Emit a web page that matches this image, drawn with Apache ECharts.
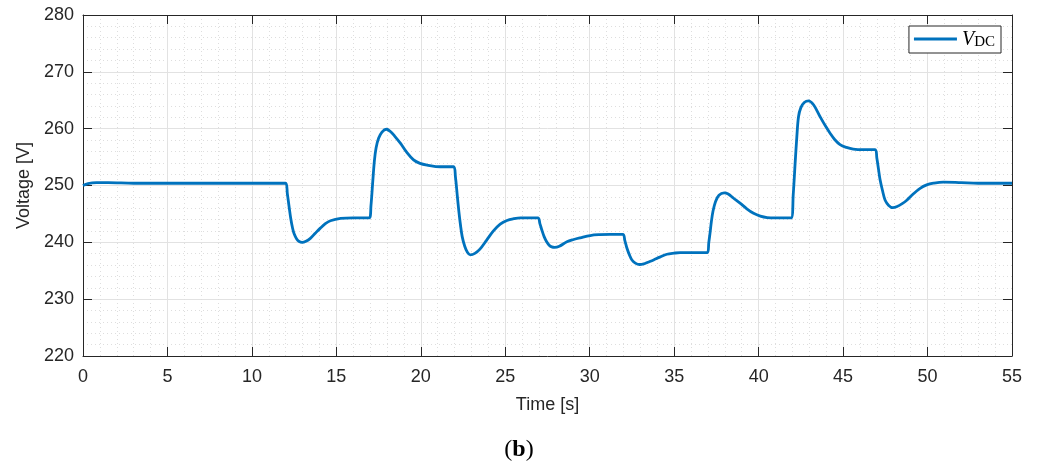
<!DOCTYPE html>
<html>
<head>
<meta charset="utf-8">
<script src="https://cdn.jsdelivr.net/npm/echarts@6/dist/echarts.min.js"></script>
<style>
html,body{margin:0;padding:0;background:#fff;}
#chart{width:1038px;height:464px;}
</style>
</head>
<body>
<div id="chart"></div>
<script>
// Time [s]
const timeS = [
0,0.3,0.8,1.5,3,12.0,12.1,12.2,12.3,12.4,12.5,12.65,12.8,12.97,13.2,13.46,13.75,14.05,14.35,14.65,15.25,16.0,16.95,
17.05,17.15,17.25,17.35,17.5,17.7,17.96,18.2,18.45,18.8,19.15,19.57,19.95,20.37,21.15,21.94,
22.05,22.15,22.25,22.35,22.45,22.6,22.75,22.93,23.2,23.5,23.9,24.3,24.7,25.1,25.5,25.9,26.93,
27.05,27.15,27.3,27.45,27.6,27.75,27.92,28.2,28.65,29.05,29.44,30.03,30.6,31.2,31.96,
32.08,32.2,32.35,32.5,32.7,32.95,33.2,33.45,33.78,34.15,34.57,35.0,35.35,36.97,
37.05,37.13,37.2,37.3,37.45,37.65,37.96,38.2,38.5,38.9,39.3,39.7,40.1,40.5,41.0,41.92,
42.05,42.16,42.26,42.36,42.5,42.7,42.95,43.25,43.64,43.95,44.23,44.5,44.82,45.2,45.6,46.2,46.9,
47.0,47.1,47.19,47.35,47.49,47.7,47.94,48.2,48.5,48.77,49.15,49.56,49.95,50.35,50.94,52.0,53.0,55.0
];
// Voltage V_DC [V]
const vdc = [
250.0,250.35,250.5,250.5,250.4,250.4,248.5,246.3,244.2,242.6,241.5,240.6,240.15,240.0,240.2,240.7,241.6,242.5,243.3,243.8,244.2,244.3,244.3,
246.5,250.5,254.3,256.6,258.3,259.4,259.9,259.5,258.7,257.4,255.9,254.5,253.9,253.6,253.3,253.3,
251.5,248.5,245.5,243.0,241.0,239.3,238.3,237.8,238.05,238.8,240.4,242.0,243.2,243.85,244.15,244.3,244.3,
243.3,242.3,241.0,240.1,239.5,239.2,239.1,239.3,240.1,240.5,240.8,241.2,241.35,241.4,241.4,
240.3,239.0,237.8,236.9,236.35,236.1,236.2,236.5,236.9,237.4,237.9,238.1,238.2,238.2,
240.0,241.8,243.6,245.5,247.2,248.3,248.7,248.5,247.8,246.9,245.9,245.1,244.6,244.35,244.3,244.3,
248.5,253.9,258.5,262.1,263.7,264.6,264.9,264.2,262.1,260.5,259.2,258.1,257.2,256.7,256.4,256.3,256.3,
254.8,252.8,251.0,248.9,247.4,246.5,246.1,246.3,246.8,247.4,248.5,249.5,250.1,250.4,250.6,250.5,250.4,250.4
];
const xTicks = [0,5,10,15,20,25,30,35,40,45,50,55];
const yTicks = [220,230,240,250,260,270,280];

const points = timeS.map((t, i) => [t, vdc[i]]);
const txt = '#262626';
const font = '"Liberation Sans", Arial, sans-serif';
const serif = '"Liberation Serif", "DejaVu Serif", serif';

const chart = echarts.init(document.getElementById('chart'), null, {renderer: 'canvas'});
const axisCommon = {
  axisLine: {show: true, onZero: false, lineStyle: {color: txt, width: 1}},
  axisTick: {show: true, inside: true, length: 9, lineStyle: {color: txt, width: 1}},
  minorTick: {show: false, splitNumber: 5},
};
chart.setOption({
  animation: false,
  backgroundColor: '#fff',
  title: {
    text: '({b|b})',
    left: 'center',
    top: 433,
    textStyle: {
      fontFamily: serif,
      fontSize: 24, fontWeight: 'normal', color: '#000',
      rich: {b: {fontFamily: serif, fontSize: 24, fontWeight: 'bold', color: '#000'}}
    }
  },
  grid: {left: 83, right: 26, top: 15, bottom: 108},
  legend: {
    right: 37, top: 26,
    orient: 'vertical',
    backgroundColor: '#fff',
    borderColor: txt, borderWidth: 1,
    padding: [3, 6, 3, 5],
    itemWidth: 43, itemHeight: 3,
    itemGap: 0,
    icon: 'rect',
    formatter: () => '{v|V}{s|DC}',
    textStyle: {
      rich: {
        v: {fontFamily: serif, fontStyle: 'italic', fontSize: 20, color: '#000', verticalAlign: 'bottom', lineHeight: 22},
        s: {fontFamily: serif, fontSize: 15, color: '#000', verticalAlign: 'bottom', padding: [6, 0, 0, 0], lineHeight: 22}
      }
    },
    data: ['V_DC']
  },
  xAxis: [
    Object.assign({}, axisCommon, {
      type: 'value', position: 'bottom',
      min: 0, max: 55, interval: 5,
      name: 'Time [s]', nameLocation: 'middle', nameGap: 40,
      nameTextStyle: {fontFamily: font, fontSize: 18, color: txt},
      axisLabel: {fontFamily: font, fontSize: 18, color: txt, margin: 12,
        formatter: v => xTicks.includes(v) ? String(v) : ''},
      splitLine: {show: true, lineStyle: {color: '#e2e2e2', width: 1}},
      minorSplitLine: {show: true, lineStyle: {color: '#dedede', width: 1, type: [1, 3]}}
    }),
    Object.assign({}, axisCommon, {
      type: 'value', position: 'top',
      min: 0, max: 55, interval: 5,
      axisLabel: {show: false},
      splitLine: {show: false}
    })
  ],
  yAxis: [
    Object.assign({}, axisCommon, {
      type: 'value', position: 'left',
      min: 220, max: 280, interval: 10,
      name: 'Voltage [V]', nameLocation: 'middle', nameGap: 46,
      nameTextStyle: {fontFamily: font, fontSize: 18, color: txt},
      axisLabel: {fontFamily: font, fontSize: 18, color: txt, margin: 9,
        formatter: v => yTicks.includes(v) ? String(v) : ''},
      splitLine: {show: true, lineStyle: {color: '#e2e2e2', width: 1}},
      minorSplitLine: {show: true, lineStyle: {color: '#dedede', width: 1, type: [1, 3]}}
    }),
    Object.assign({}, axisCommon, {
      type: 'value', position: 'right',
      min: 220, max: 280, interval: 10,
      axisLabel: {show: false},
      splitLine: {show: false}
    })
  ],
  series: [{
    name: 'V_DC',
    type: 'line',
    data: points,
    showSymbol: false,
    symbol: 'none',
    smooth: 0.35,
    clip: true,
    lineStyle: {color: '#0072BD', width: 2.8},
    itemStyle: {color: '#0072BD'},
    z: 5
  }]
});
</script>
</body>
</html>
